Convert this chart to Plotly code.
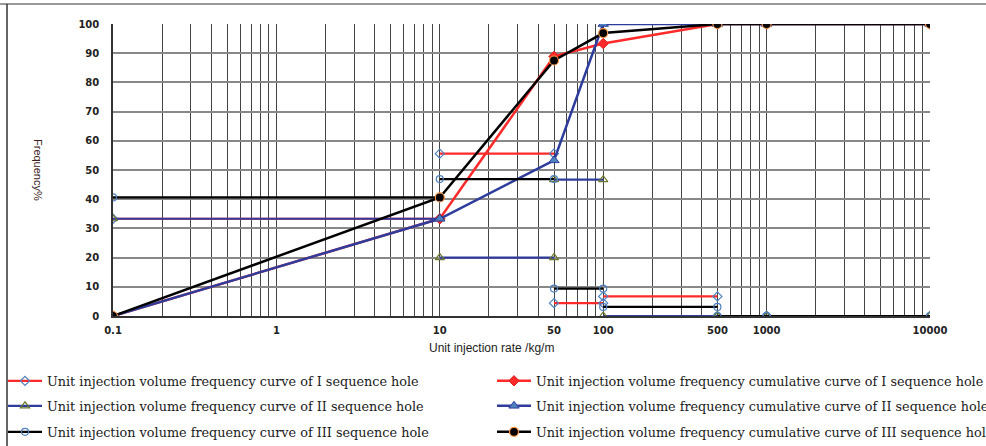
import plotly.graph_objects as go

# ---- data ----
bin_edges = [0.1, 10, 50, 100, 500, 1000, 10000]
freq_I = [33.3, 55.6, 4.4, 6.7, 0, 0]
freq_II = [33.3, 20.0, 46.7, 0, 0, 0]
freq_III = [40.6, 46.9, 9.4, 3.1, 0, 0]
cum_I = [0, 33.3, 88.9, 93.3, 100, 100, 100]
cum_II = [0, 33.3, 53.3, 100, 100, 100, 100]
cum_III = [0, 40.6, 87.5, 96.9, 100, 100, 100]

x_tick_vals = [0.1, 1, 10, 50, 100, 500, 1000, 10000]
x_tick_text = ["0.1", "1", "10", "50", "100", "500", "1000", "10000"]
y_tick_vals = [0, 10, 20, 30, 40, 50, 60, 70, 80, 90, 100]

names_freq = [
    "Unit injection volume frequency curve of I sequence hole",
    "Unit injection volume frequency curve of II sequence hole",
    "Unit injection volume frequency curve of III sequence hole",
]
names_cum = [
    "Unit injection volume frequency cumulative curve of I sequence hole",
    "Unit injection volume frequency cumulative curve of II sequence hole",
    "Unit injection volume frequency cumulative curve of III sequence hole",
]

# ---- layout geometry (pixels) ----
W, H = 986, 446
L, R, T, B = 113, 56, 24, 130
PW, PH = W - L - R, H - T - B


def px_x(p):
    return (p - L) / PW


def px_y(p):
    return (H - B - p) / PH


def steps(freq):
    xs, ys = [], []
    for i, f in enumerate(freq):
        xs += [bin_edges[i], bin_edges[i + 1], None]
        ys += [f, f, None]
    return xs, ys


line_colors = ["#FF2A2A", "#2E3D9C", "#000000"]
freq_markers = [
    dict(symbol="diamond-open", size=7, color="#4F81BD", line=dict(width=1.2)),
    dict(symbol="triangle-up-open", size=8, color="#6B7A2A", line=dict(width=1.2)),
    dict(symbol="circle-open", size=7, color="#4F81BD", line=dict(width=1.2)),
]
cum_markers = [
    dict(symbol="diamond", size=8, color="#FF2A2A", line=dict(color="#E02020", width=1)),
    dict(symbol="triangle-up", size=9, color="#4F81BD", line=dict(color="#2E3D9C", width=1)),
    dict(symbol="circle", size=9, color="#000000", line=dict(color="#F79646", width=1.2)),
]
freqs = [freq_I, freq_II, freq_III]
cums = [cum_I, cum_II, cum_III]
row_y = [381, 406, 432]

fig = go.Figure()
for i in range(3):
    xs, ys = steps(freqs[i])
    fig.add_trace(go.Scatter(
        x=xs, y=ys, mode="lines+markers", name=names_freq[i],
        line=dict(color=line_colors[i], width=2.2),
        marker=freq_markers[i], connectgaps=False,
        legend="legend" if i == 0 else "legend%d" % (2 * i + 1),
    ))
    fig.add_trace(go.Scatter(
        x=bin_edges, y=cums[i], mode="lines+markers", name=names_cum[i],
        line=dict(color=line_colors[i], width=2.5),
        marker=cum_markers[i], legend="legend%d" % (2 * i + 2),
    ))

minor_vals = [m * 10 ** k for k in range(-1, 4) for m in range(2, 10)]

legend_font = dict(family="DejaVu Serif", size=12.8, color="#1a1a1a")
legend_common = dict(orientation="v", xanchor="left", yanchor="middle",
                     font=legend_font, bgcolor="rgba(0,0,0,0)", itemwidth=34,
                     borderwidth=0)
legend_layout = {}
for i in range(3):
    k1 = "legend" if i == 0 else "legend%d" % (2 * i + 1)
    k2 = "legend%d" % (2 * i + 2)
    legend_layout[k1] = dict(legend_common, x=px_x(3), y=px_y(row_y[i]))
    legend_layout[k2] = dict(legend_common, x=px_x(492), y=px_y(row_y[i]))

fig.update_layout(
    width=W, height=H,
    margin=dict(l=L, r=R, t=T, b=B, autoexpand=False),
    paper_bgcolor="white", plot_bgcolor="white",
    showlegend=True,
    **legend_layout,
    xaxis=dict(
        type="log", range=[-1, 4],
        tickmode="array", tickvals=x_tick_vals, ticktext=x_tick_text,
        tickfont=dict(family="DejaVu Sans", size=10, color="#222222", weight="bold"),
        showgrid=True, gridcolor="#444444", gridwidth=1,
        minor=dict(tickmode="array", tickvals=minor_vals, showgrid=True,
                   gridcolor="#444444", gridwidth=1, ticks=""),
        showline=True, linecolor="#333333", linewidth=1.5,
        ticks="", ticklabelstandoff=4, zeroline=False,
    ),
    yaxis=dict(
        range=[0, 100], tickmode="array", tickvals=y_tick_vals,
        tickfont=dict(family="DejaVu Sans", size=10, color="#222222", weight="bold"),
        showgrid=True, gridcolor="#888888", gridwidth=1.6,
        showline=True, linecolor="#333333", linewidth=1.5,
        ticks="", ticklabelstandoff=10, zeroline=False,
    ),
    annotations=[
        dict(text="Frequency%", xref="paper", yref="paper", x=px_x(30), y=0.5,
             textangle=90, showarrow=False,
             font=dict(family="Liberation Sans", size=11, color="#3a1a1a")),
        dict(text="Unit injection rate /kg/m", xref="paper", yref="paper",
             x=px_x(491), y=px_y(357), showarrow=False,
             font=dict(family="Liberation Sans", size=12, color="#222222")),
    ],
    shapes=[
        dict(type="line", xref="paper", yref="paper", x0=px_x(0), x1=px_x(W),
             y0=px_y(4), y1=px_y(4), line=dict(color="#999999", width=2)),
        dict(type="line", xref="paper", yref="paper", x0=px_x(7), x1=px_x(7),
             y0=px_y(4), y1=px_y(H), line=dict(color="#333333", width=1.5)),
    ],
)

fig.write_html("out.html", config={"displayModeBar": False},
               post_script="document.body.style.margin='0';")
